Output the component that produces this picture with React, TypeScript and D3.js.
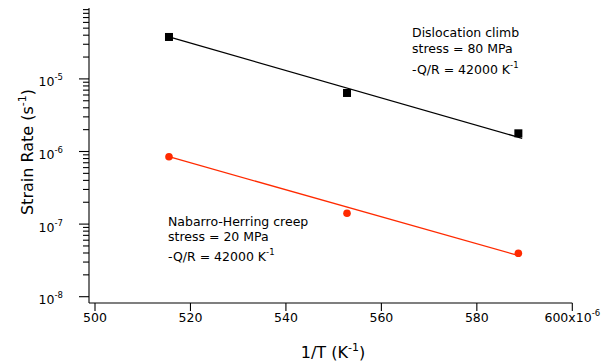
import { scaleLinear, scaleLog, line, range } from "d3";

// 1/T values (x10^-6 K^-1)
const invT = [515.5, 552.8, 588.7];
const climbRate = [3.78e-5, 6.4e-6, 1.78e-6];
const nhRate = [8.48e-7, 1.41e-7, 3.96e-8];

// fit lines (endpoints)
const climbFitX = [515.5, 589.5];
const climbFitY = [3.78e-5, 1.52e-6];
const nhFitX = [515.5, 589.0];
const nhFitY = [8.48e-7, 3.64e-8];

const xTicks = [500, 520, 540, 560, 580, 600];
const yDecades = [-8, -7, -6, -5];

const RED = "#ff2a00";
const FONT = "DejaVu Sans, sans-serif";

export default function App() {
    const width = 605;
    const height = 364;

    const x = scaleLinear([500, 600], [95, 572.3]);
    const y = scaleLog([1e-8, 1e-4], [296.7, 6.3]);

    const axisX = 89;
    const axisY = 303;
    const yTop = 9.48e-5;

    const minor: number[] = [];
    yDecades.forEach((d) => {
        range(2, 10).forEach((k) => {
            const v = k * Math.pow(10, d);
            if (v <= yTop) minor.push(v);
        });
    });

    const mkPath = (xs: number[], ys: number[]) =>
        line<number>((_, i) => x(xs[i]), (d) => y(d))(ys) || "";

    return (
        <svg
            width={width}
            height={height}
            style={{ position: "absolute", left: 0, top: 0, background: "white" }}
            fontFamily={FONT}
        >
            {/* axes */}
            <g stroke="black" strokeWidth="1.1" fill="none">
                <line x1={axisX} x2={axisX} y1={y(yTop)} y2={axisY} />
                <line x1={axisX} x2={x(600)} y1={axisY} y2={axisY} />
                {yDecades.map((d) => (
                    <line key={d} x1={axisX - 10} x2={axisX} y1={y(Math.pow(10, d))} y2={y(Math.pow(10, d))} />
                ))}
                {minor.map((v, i) => (
                    <line key={i} x1={axisX - 6} x2={axisX} y1={y(v)} y2={y(v)} />
                ))}
                {xTicks.map((t) => (
                    <line key={t} x1={x(t)} x2={x(t)} y1={axisY} y2={axisY + 8} />
                ))}
            </g>

            {/* tick labels */}
            <g fontSize="12.5" fill="black">
                {xTicks.map((t) => (
                    <text key={t} x={x(t)} y={322} textAnchor="middle">
                        {t === 600 ? (
                            <>
                                600x10<tspan fontSize="8.5" dy="-6">-6</tspan>
                            </>
                        ) : (
                            t
                        )}
                    </text>
                ))}
                {yDecades.map((d) => (
                    <text key={d} x={63} y={y(Math.pow(10, d)) + 7.5} textAnchor="end">
                        10<tspan fontSize="8.5" dy="-6">{d}</tspan>
                    </text>
                ))}
            </g>

            {/* axis titles */}
            <text x={333} y={358} textAnchor="middle" fontSize="16">
                1/T (K<tspan fontSize="11" dy="-7">-1</tspan>
                <tspan dy="7">)</tspan>
            </text>
            <text transform="translate(33,152) rotate(-90)" textAnchor="middle" fontSize="16">
                Strain Rate (s<tspan fontSize="11" dy="-7">-1</tspan>
                <tspan dy="7">)</tspan>
            </text>

            {/* fits */}
            <path d={mkPath(climbFitX, climbFitY)} fill="none" stroke="black" strokeWidth="1.3" />
            <path d={mkPath(nhFitX, nhFitY)} fill="none" stroke={RED} strokeWidth="1.3" />

            {/* points */}
            {climbRate.map((v, i) => (
                <rect key={i} x={x(invT[i]) - 4} y={y(v) - 4} width={8} height={8} fill="black" />
            ))}
            {nhRate.map((v, i) => (
                <circle key={i} cx={x(invT[i])} cy={y(v)} r={3.8} fill={RED} />
            ))}

            {/* annotations */}
            <g fontSize="12.5" fill="black">
                <text x={412} y={37.3}>Dislocation climb</text>
                <text x={412} y={53.3}>stress = 80 MPa</text>
                <text x={412} y={74}>
                    -Q/R = 42000 K<tspan fontSize="8.5" dy="-6">-1</tspan>
                </text>
                <text x={168} y={225.7}>Nabarro-Herring creep</text>
                <text x={168} y={241}>stress = 20 MPa</text>
                <text x={168} y={260.7}>
                    -Q/R = 42000 K<tspan fontSize="8.5" dy="-6">-1</tspan>
                </text>
            </g>
        </svg>
    );
}
